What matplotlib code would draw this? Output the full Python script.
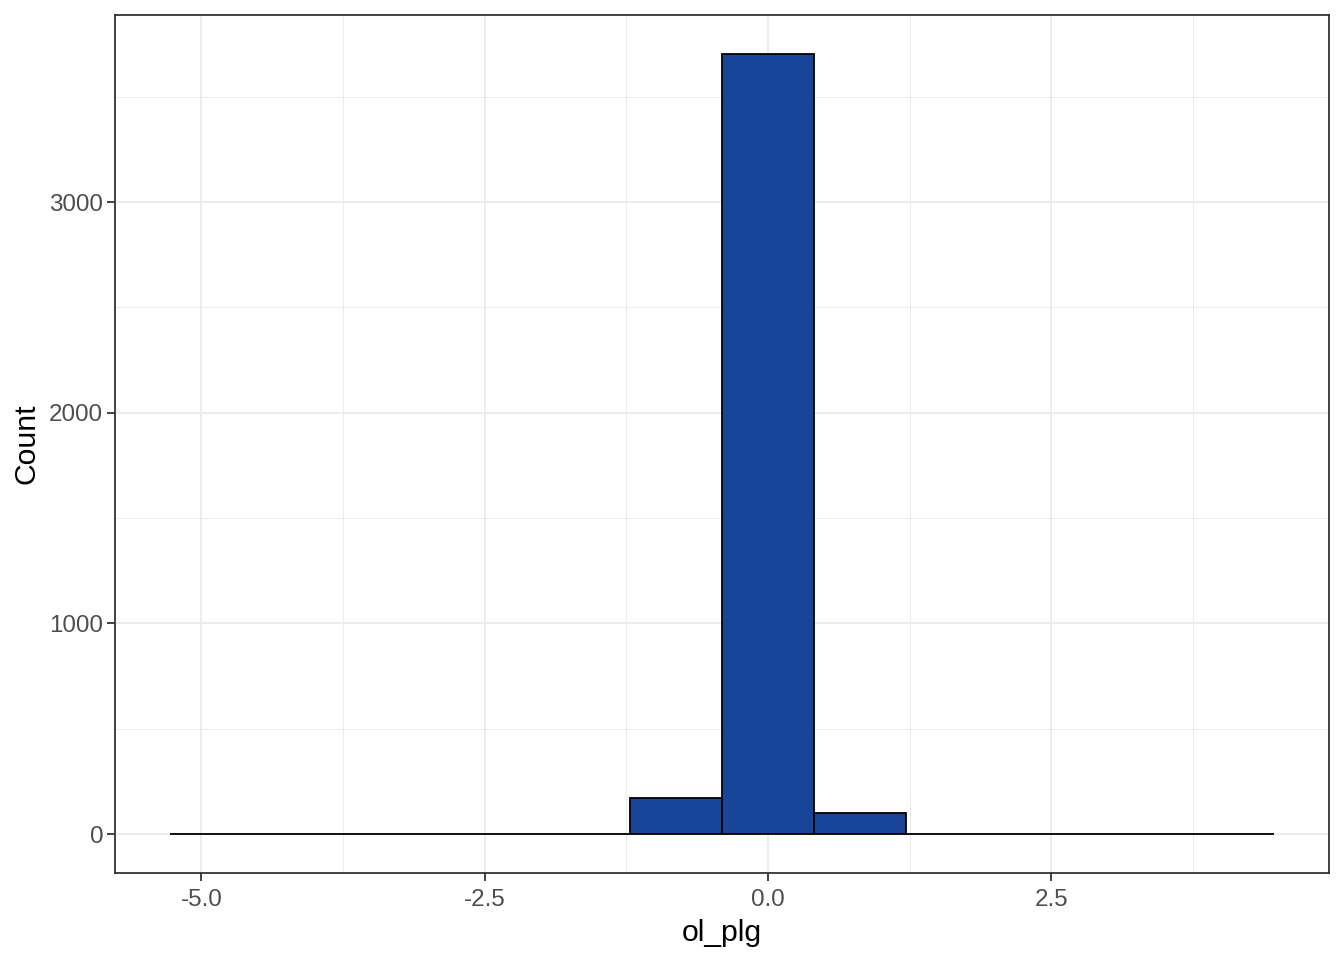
import matplotlib
matplotlib.use("Agg")
import matplotlib.pyplot as plt
from matplotlib.ticker import FuncFormatter, FixedLocator
import numpy as np

# histogram of ol_plg, 12 bins
bin_start = -5.274
bin_width = 0.8113
counts = [1, 0, 0, 0, 0, 171, 3701, 100, 0, 0, 0, 1]
x_ticks = [-5.0, -2.5, 0.0, 2.5]
y_ticks = [0, 1000, 2000, 3000]

plt.rcParams['font.family'] = ['Liberation Sans', 'DejaVu Sans']

edges = bin_start + bin_width * np.arange(len(counts))

fig = plt.figure(figsize=(13.44, 9.6), dpi=100)
ax = fig.add_axes([0.0856, 0.0906, 0.9032, 0.8934])

ax.bar(edges, counts, width=bin_width, align='edge', color='#18449A',
       edgecolor='black', linewidth=1.3, zorder=3)

# limits with 5% expansion like ggplot
lo, hi = edges[0], edges[-1] + bin_width
pad = (hi - lo) * 0.05
ax.set_xlim(lo - pad, hi + pad)
ax.set_ylim(-max(counts) * 0.05, max(counts) * 1.05)

ax.xaxis.set_major_locator(FixedLocator(x_ticks))
ax.yaxis.set_major_locator(FixedLocator(y_ticks))
ax.xaxis.set_minor_locator(FixedLocator([-3.75, -1.25, 1.25, 3.75]))
ax.yaxis.set_minor_locator(FixedLocator([500, 1500, 2500, 3500]))
ax.xaxis.set_major_formatter(FuncFormatter(lambda x, _: f"{x:.1f}"))
ax.yaxis.set_major_formatter(FuncFormatter(lambda y, _: f"{int(y)}"))

ax.grid(True, which='major', color='#EBEBEB', linewidth=1.3, zorder=0)
ax.grid(True, which='minor', color='#EBEBEB', linewidth=0.7, zorder=0)
ax.set_axisbelow(True)

for s in ax.spines.values():
    s.set_color('#333333')
    s.set_linewidth(1.3)

ax.tick_params(which='major', length=5.5, width=1.3, color='#333333',
               labelsize=17.4, labelcolor='#4D4D4D', pad=3)
ax.tick_params(axis='x', which='major', pad=6)
ax.tick_params(which='minor', length=0)

ax.set_xlabel("ol_plg", fontsize=21.7, color='black', labelpad=6)
ax.set_ylabel("Count", fontsize=21.7, color='black', labelpad=6)

plt.savefig("out.png", dpi=100)
